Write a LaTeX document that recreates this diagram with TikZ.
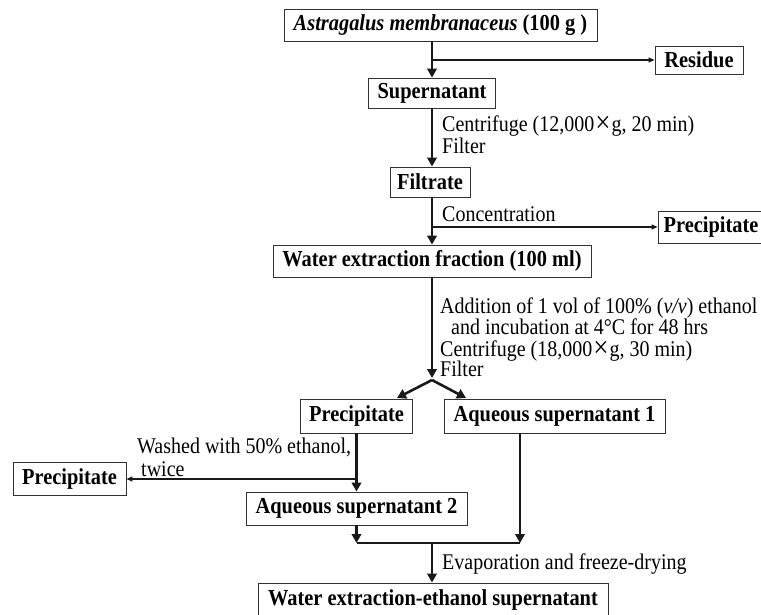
\documentclass[tikz,border=0pt]{standalone}
\usepackage{graphicx}
\usepackage{fontspec}
\setmainfont{Liberation Serif}
\usetikzlibrary{arrows.meta}
\newcommand{\vs}[1]{\scalebox{1}[1.12]{#1}}
\newcommand{\tms}{\kern1pt\raisebox{-1.5pt}{\fontsize{27}{22}\selectfont ×}\kern1pt}
\begin{document}
\begin{tikzpicture}[x=1pt,y=-1pt,
  box/.style={draw=black!80, line width=0.9pt, inner sep=0pt, font=\fontsize{20.4}{22}\selectfont\bfseries},
  lbl/.style={anchor=base west, inner sep=0pt, align=left, font=\fontsize{20}{22}\selectfont},
  main/.style={draw=black!90, line width=2.6pt, -{Triangle[length=9pt,width=9.5pt]}},
  diag/.style={draw=black!90, line width=2.6pt, -{Triangle[length=9pt,width=10pt]}},
  br/.style={draw=black!90, line width=1.8pt, -{Triangle[length=6pt,width=5pt]}},
  brl/.style={draw=black!90, line width=1.5pt, -{Triangle[length=6pt,width=5pt]}},
  joinline/.style={draw=black!90, line width=2pt}]
\useasboundingbox (0,0) rectangle (761,614);
\coordinate (cx) at (432,0);
% boxes
\node[box, minimum width=313pt, minimum height=32pt] (ast) at (440.5,25) {\vs{\textit{Astragalus membranaceus} (100 g )}};
\node[box, minimum width=88pt, minimum height=28pt] (res) at (699,60) {\vs{Residue}};
\node[box, minimum width=127pt, minimum height=30pt] (sup) at (432,93) {\vs{Supernatant}};
\node[box, minimum width=80pt, minimum height=30pt] (filt) at (430,182) {\vs{Filtrate}};
\node[box, minimum width=106pt, minimum height=32pt] (prec1) at (711,227) {\vs{Precipitate}};
\node[box, minimum width=318pt, minimum height=32pt] (wef) at (432,261) {\vs{Water extraction fraction (100 ml)}};
\node[box, minimum width=112pt, minimum height=34pt] (prec2) at (356.5,416) {\vs{Precipitate}};
\node[box, minimum width=221pt, minimum height=34pt] (aq1) at (554.5,416) {\vs{Aqueous supernatant 1}};
\node[box, minimum width=113pt, minimum height=33pt] (precL) at (69.5,479) {\vs{Precipitate}};
\node[box, minimum width=221pt, minimum height=33pt] (aq2) at (356.5,508.5) {\vs{Aqueous supernatant 2}};
\node[box, minimum width=350pt, minimum height=34pt] (fin) at (433,600) {\vs{Water extraction-ethanol supernatant}};
% coordinates
\coordinate (b1) at (432,60);
\coordinate (sp) at (432,378);
\coordinate (sp2) at (432,380);
\coordinate (tl) at (397,398);
\coordinate (tr) at (466,398);
\coordinate (jl) at (356.5,543);
\coordinate (jr) at (520,543);
% connectors
\draw[main] (ast.south -| cx) -- (sup.north -| cx);
\draw[br] (b1) -- (res.west);
\draw[main] (sup.south -| cx) -- (filt.north -| cx);
\draw[main] (filt.south -| cx) -- (wef.north -| cx);
\draw[br] (cx |- prec1.west) -- (prec1.west);
\draw[main] (wef.south -| cx) -- (sp);
\draw[diag] (sp2) -- (tl);
\draw[diag] (sp2) -- (tr);
\draw[main] (prec2.south) -- (aq2.north);
\draw[brl] (prec2.south |- precL.east) -- (precL.east);
\draw[main] (aq1.south -| jr) -- (jr);
\draw[main] (aq2.south) -- (jl);
\draw[joinline] (jl) -- (jr);
\draw[main] (cx |- jl) -- (fin.north -| cx);
% labels (base = last baseline)
\node[lbl] (l1) at (442,153) {\vs{Centrifuge (12,000\tms g, 20 min)}\\\vs{Filter}};
\node[lbl] (l3) at (442,221) {\vs{Concentration}};
\node[lbl] (l4) at (440,376) {\vs{Addition of 1 vol of 100\% (\textit{v/v}) ethanol}\\[-1pt]
  \hspace{11pt}\vs{and incubation at 4°C for 48 hrs}\\[0pt]
  \vs{Centrifuge (18,000\tms g, 30 min)}\\[-2pt]
  \vs{Filter}};
\node[lbl] (l8) at (137,476) {\vs{Washed with 50\% ethanol,}\\[1pt]\hspace{4pt}\vs{twice}};
\node[lbl] (l10) at (442,569) {\vs{Evaporation and freeze-drying}};
\end{tikzpicture}
\end{document}
